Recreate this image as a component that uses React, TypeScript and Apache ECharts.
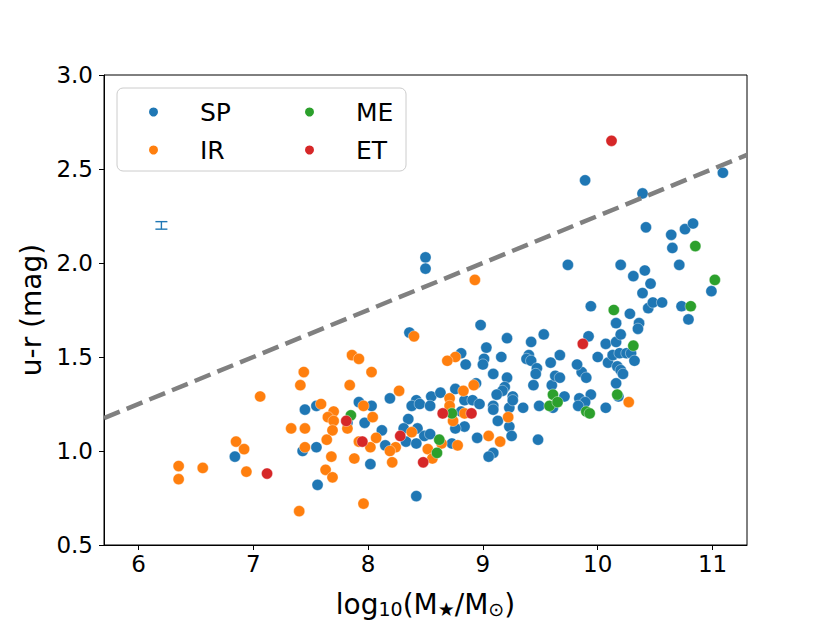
import React, { useEffect, useRef } from "react";
import * as echarts from "echarts";

const FONT = "DejaVu Sans";

// Tick labels
const xTicks = [6, 7, 8, 9, 10, 11];
const yTicks = [0.5, 1.0, 1.5, 2.0, 2.5, 3.0];

// Categories
const categories = ["SP", "IR", "ME", "ET"];
const colors = ["#1f77b4", "#ff7f0e", "#2ca02c", "#d62728"];

// [log10(M*/Msun), u-r]
const spPoints = [
  [7.45, 1.22], [7.55, 1.24], [7.43, 1.0], [7.55, 1.02], [6.84, 0.97], [7.56, 0.82],
  [8.36, 1.63], [8.19, 1.28], [8.42, 1.27], [8.55, 1.29], [7.92, 1.26], [8.03, 1.24], [7.82, 1.15], [7.97, 1.15],
  [8.38, 1.24], [8.45, 1.25], [8.54, 1.24], [8.35, 1.17], [8.31, 1.12], [8.43, 1.12], [8.49, 1.08], [8.54, 1.09],
  [8.12, 1.11], [8.33, 1.05], [8.42, 1.04], [8.15, 1.03], [8.02, 0.93], [8.42, 0.76],
  [8.98, 1.67], [9.03, 1.55], [8.81, 1.52], [8.85, 1.46], [9.01, 1.49], [9.0, 1.46], [9.16, 1.5], [9.21, 1.6],
  [9.09, 1.41], [8.94, 1.36], [9.21, 1.39], [8.76, 1.33], [8.63, 1.31], [9.19, 1.34],
  [9.17, 1.32], [9.12, 1.3], [8.84, 1.27], [8.91, 1.27], [8.97, 1.25], [9.09, 1.24], [9.09, 1.22], [9.23, 1.23],
  [9.35, 1.23], [9.49, 1.24], [8.81, 1.21], [9.13, 1.16], [9.23, 1.13], [9.25, 1.08], [8.84, 1.13], [8.76, 1.12],
  [8.73, 1.04], [8.95, 1.07], [9.48, 1.06], [9.09, 0.99], [9.05, 0.97], [9.26, 1.29], [9.26, 1.27],
  [9.4, 1.51], [9.38, 1.49], [9.42, 1.48], [9.42, 1.58], [9.53, 1.62], [9.59, 1.47], [9.47, 1.44], [9.46, 1.41],
  [9.44, 1.35], [9.6, 1.35], [9.61, 1.23], [9.71, 1.29], [9.84, 1.28], [9.94, 1.3], [9.89, 1.26], [9.83, 1.24],
  [10.07, 1.23], [10.18, 1.29], [10.16, 1.36], [9.63, 1.4], [9.67, 1.39], [9.86, 1.42], [9.9, 1.39], [9.67, 1.51],
  [9.82, 1.46], [10.0, 1.5], [10.09, 1.47], [10.13, 1.51], [10.19, 1.52], [10.25, 1.52], [10.29, 1.52], [10.32, 1.48],
  [10.17, 1.45], [10.2, 1.43], [10.22, 1.41], [9.92, 1.61], [10.07, 1.57], [10.16, 1.58], [10.2, 1.62], [9.94, 1.77],
  [10.28, 1.73], [10.16, 1.68], [10.36, 1.68], [10.35, 1.65], [10.39, 1.84], [10.46, 1.89], [10.44, 1.76],
  [10.48, 1.79], [10.56, 1.79], [10.73, 1.77], [10.79, 1.7], [10.99, 1.85], [11.09, 2.48], [9.89, 2.44],
  [10.39, 2.37], [10.42, 2.19], [10.64, 2.15], [10.76, 2.18], [10.83, 2.21], [10.65, 2.08], [9.74, 1.99],
  [10.2, 1.99], [10.71, 1.99], [10.41, 1.96], [10.31, 1.93], [8.5, 2.03], [8.5, 1.97],
];

const irPoints = [
  [7.44, 1.42], [7.41, 1.35], [7.06, 1.29], [7.33, 1.12], [7.45, 1.12], [7.45, 1.02], [6.85, 1.05], [6.92, 1.01],
  [6.35, 0.92], [6.35, 0.85], [6.56, 0.91], [6.94, 0.89], [7.4, 0.68],
  [8.4, 1.61], [7.86, 1.51], [7.92, 1.49], [8.03, 1.42], [7.84, 1.35], [8.27, 1.32], [7.96, 1.24], [7.59, 1.25],
  [7.7, 1.21], [7.65, 1.18], [7.7, 1.16], [7.82, 1.12], [7.69, 1.11], [8.04, 1.18], [8.38, 1.1], [8.07, 1.07],
  [8.02, 1.02], [7.92, 1.05], [8.24, 1.02], [8.19, 1.0], [8.21, 0.94], [7.64, 1.06], [7.68, 0.97], [7.88, 0.96],
  [7.63, 0.9], [7.69, 0.86], [7.96, 0.72], [8.52, 1.01],
  [8.76, 1.5], [8.69, 1.48], [8.92, 1.35], [8.83, 1.32], [8.71, 1.28], [8.71, 1.24], [8.74, 1.16], [8.84, 1.2],
  [8.64, 1.04], [8.78, 1.03], [8.56, 0.96], [9.05, 1.08], [9.15, 1.05], [9.22, 1.18], [10.27, 1.26], [8.93, 1.91],
];

const mePoints = [
  [7.85, 1.19], [8.73, 1.2], [8.62, 1.06], [8.6, 0.99], [9.61, 1.3], [9.58, 1.24], [9.65, 1.26], [9.9, 1.21],
  [9.93, 1.2], [10.17, 1.3], [10.14, 1.75], [10.31, 1.56], [10.81, 1.77], [10.85, 2.09], [11.02, 1.91],
];

const etPoints = [
  [7.12, 0.88], [7.81, 1.16], [7.95, 1.05], [8.28, 1.08], [8.48, 0.94], [8.65, 1.2], [8.9, 1.2], [9.87, 1.57],
  [10.12, 2.65],
];

// Typical error bar: [x, y, yerr]
const errorBar = [[6.2, 2.2, 0.02]];

// Dashed dividing line u-r = slope * logM + intercept over the x range
const xRange = [5.7, 11.3];
const lineSlope = 0.25;
const lineIntercept = -0.25;
const dividingLine = xRange.map((x) => [x, lineSlope * x + lineIntercept]);

const seriesPoints = [spPoints, irPoints, mePoints, etPoints];

export default function App() {
  const ref = useRef<HTMLDivElement>(null);

  useEffect(() => {
    if (!ref.current) return;
    const chart = echarts.init(ref.current, null, { renderer: "svg" });

    const scatterSeries = categories.map((name, i) => ({
      name,
      type: "scatter",
      data: seriesPoints[i],
      symbol: "circle",
      symbolSize: 11.2,
      itemStyle: { color: colors[i], borderColor: "#ffffff", borderWidth: 0.4, opacity: 1 },
      z: 2,
    }));

    const legendCommon = {
      orient: "vertical",
      top: 98,
      padding: 0,
      itemWidth: 11,
      itemHeight: 11,
      itemGap: 10,
      icon: "circle",
      selectedMode: false,
      z: 20,
      textStyle: {
        fontFamily: FONT,
        fontSize: 25,
        color: "#000",
        lineHeight: 28,
        padding: [0, 0, 0, 36],
      },
    };

    chart.setOption({
      animation: false,
      backgroundColor: "#ffffff",
      textStyle: { fontFamily: FONT },
      grid: {
        left: 104,
        right: 83,
        top: 75,
        bottom: 71,
        show: true,
        borderColor: "#000",
        borderWidth: 1,
        backgroundColor: "transparent",
      },
      legend: [
        { ...legendCommon, left: 147, data: [categories[0], categories[1]] },
        { ...legendCommon, left: 303, data: [categories[2], categories[3]] },
      ],
      graphic: [
        {
          type: "rect",
          shape: { x: 117, y: 88, width: 289, height: 83, r: 6 },
          style: { fill: "rgba(255,255,255,0.8)", stroke: "#cccccc", lineWidth: 1 },
          z: 15,
        },
      ],
      xAxis: {
        type: "value",
        min: xRange[0],
        max: xRange[1],
        axisLine: { show: true, lineStyle: { color: "#000", width: 1 } },
        axisTick: { show: true, inside: false, length: 5, customValues: xTicks, lineStyle: { color: "#000" } },
        axisLabel: {
          customValues: xTicks,
          fontFamily: FONT,
          fontSize: 23,
          color: "#000",
          margin: 7,
        },
        splitLine: { show: false },
        name:
          "{n|log}{s|10}{n|(M}{s|★}{n|/M}{s|⊙}{n|)}",
        nameLocation: "middle",
        nameGap: 39,
        nameTextStyle: {
          color: "#000",
          rich: {
            n: { fontFamily: FONT, fontSize: 28, color: "#000", lineHeight: 34, verticalAlign: "bottom" },
            s: { fontFamily: FONT, fontSize: 19, color: "#000", lineHeight: 19, verticalAlign: "bottom" },
          },
        },
      },
      yAxis: {
        type: "value",
        min: yTicks[0],
        max: yTicks[yTicks.length - 1],
        interval: 0.5,
        axisLine: { show: true, lineStyle: { color: "#000", width: 1 } },
        axisTick: { show: true, inside: false, length: 5, lineStyle: { color: "#000" } },
        axisLabel: {
          fontFamily: FONT,
          fontSize: 23,
          color: "#000",
          margin: 11,
          formatter: (v: number) => v.toFixed(1),
        },
        splitLine: { show: false },
        name: "u-r (mag)",
        nameLocation: "middle",
        nameGap: 53,
        nameTextStyle: { fontFamily: FONT, fontSize: 28, color: "#000" },
      },
      series: [
        ...scatterSeries,
        {
          name: "dividing",
          type: "line",
          data: dividingLine,
          symbol: "none",
          lineStyle: { color: "#808080", width: 4.5, type: [17, 7.5] },
          z: 3,
          silent: true,
        },
        {
          name: "errorbar",
          type: "custom",
          data: errorBar,
          z: 3,
          renderItem: (params: any, api: any) => {
            const x = api.value(0);
            const y = api.value(1);
            const e = api.value(2);
            const top = api.coord([x, y + e]);
            const bot = api.coord([x, y - e]);
            const cap = 6;
            const st = { stroke: colors[0], lineWidth: 1.4 };
            return {
              type: "group",
              children: [
                { type: "line", shape: { x1: top[0], y1: top[1], x2: bot[0], y2: bot[1] }, style: st },
                { type: "line", shape: { x1: top[0] - cap, y1: top[1], x2: top[0] + cap, y2: top[1] }, style: st },
                { type: "line", shape: { x1: bot[0] - cap, y1: bot[1], x2: bot[0] + cap, y2: bot[1] }, style: st },
              ],
            };
          },
        },
      ],
    });

    return () => chart.dispose();
  }, []);

  return (
    <div
      ref={ref}
      style={{ position: "fixed", left: 0, top: 0, width: 830, height: 623, background: "#fff" }}
    />
  );
}
